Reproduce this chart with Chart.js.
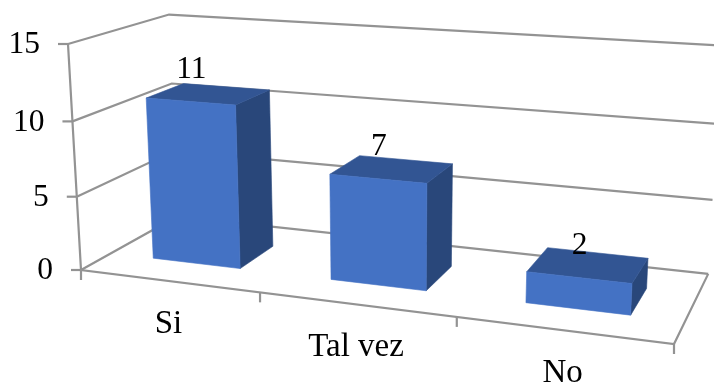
<!DOCTYPE html>
<html lang="es">

<head>
    <meta charset="UTF-8">
    <title>Encuesta</title>
    <script src="https://cdn.jsdelivr.net/npm/chart.js"></script>
    <style>
        html, body { margin: 0; background: #fff; }
        canvas { display: block; }
    </style>
</head>

<body>
    <canvas id="myChart" width="714" height="383"></canvas>
    <script>
        const categories = ['Si', 'Tal vez', 'No'];
        const values = [11, 7, 2];
        const yMin = 0;
        const yMax = 15;
        const yStep = 5;

        const FONT = '33px "Liberation Serif"';
        const NUM_FONT = '31.5px "Liberation Serif"';
        const LINE = '#939393';

        // camera: origin plus the three box edges, each with its homogeneous weight
        const origin = [81, 270];
        const edgeU = { p: [674, 344], w: 0.865 };
        const edgeV = { p: [68, 44], w: 0.96 };
        const edgeW = { p: [177, 216.5], w: 1.125 };
        const barDepth = [0.29, 0.68]; // front and back of the bars inside the box

        // u along the categories, v up the values, w into the depth (all 0..1)
        function project(u, v, w) {
            const den = 1 + (edgeU.w - 1) * u + (edgeV.w - 1) * v + (edgeW.w - 1) * w;
            return [0, 1].map(i => (
                origin[i]
                + (edgeU.w * edgeU.p[i] - origin[i]) * u
                + (edgeV.w * edgeV.p[i] - origin[i]) * v
                + (edgeW.w * edgeW.p[i] - origin[i]) * w
            ) / den);
        }

        function polyline(ctx, pts, close) {
            ctx.beginPath();
            pts.forEach((p, i) => i ? ctx.lineTo(p[0], p[1]) : ctx.moveTo(p[0], p[1]));
            if (close) ctx.closePath();
        }

        // the thin stroke closes the antialiasing seams between faces
        function face(ctx, pts, color) {
            polyline(ctx, pts, true);
            ctx.fillStyle = color;
            ctx.strokeStyle = color;
            ctx.lineWidth = 0.6;
            ctx.fill();
            ctx.stroke();
        }

        const box3d = {
            id: 'box3d',

            // walls, floor, ticks and axis texts
            beforeDatasetsDraw(chart) {
                const { ctx, scales: { x, y } } = chart;
                const toU = px => (px - x.left) / x.width;
                const toV = py => (y.bottom - py) / y.height;

                ctx.save();
                ctx.strokeStyle = LINE;
                ctx.lineWidth = 2.2;
                ctx.lineJoin = 'miter';

                y.ticks.forEach(t => {
                    const v = toV(y.getPixelForValue(t.value));
                    polyline(ctx, [project(0, v, 0), project(0, v, 1), project(1, v, 1)]);
                    ctx.stroke();
                    const p = project(0, v, 0);
                    polyline(ctx, [[p[0] - 10, p[1]], p]);
                    ctx.stroke();
                });

                polyline(ctx, [project(0, 1, 0), project(0, 0, 0), project(1, 0, 0), project(1, 0, 1)]);
                ctx.stroke();

                for (let i = 0; i <= categories.length; i++) {
                    const p = project(i / categories.length, 0, 0);
                    polyline(ctx, [p, [p[0], p[1] + 10]]);
                    ctx.stroke();
                }

                ctx.fillStyle = '#000';
                ctx.textBaseline = 'middle';

                ctx.font = NUM_FONT;
                ctx.textAlign = 'right';
                y.ticks.forEach(t => {
                    const p = project(0, toV(y.getPixelForValue(t.value)), 0);
                    ctx.fillText(t.label, p[0] - 28, p[1] + 1);
                });

                ctx.font = FONT;
                ctx.textAlign = 'center';
                categories.forEach((c, i) => {
                    const p = project(toU(x.getPixelForValue(i)), 0, 0);
                    ctx.fillText(c, p[0], p[1] + 43);
                });
                ctx.restore();
            },

            // the bars: Chart.js lays them out, each one is then drawn as a box
            beforeDatasetDraw(chart, args) {
                const { ctx, scales: { x, y } } = chart;
                const toU = px => (px - x.left) / x.width;
                const toV = py => (y.bottom - py) / y.height;
                const [w0, w1] = barDepth;

                ctx.save();
                args.meta.data.forEach((bar, i) => {
                    const u0 = toU(bar.x - bar.width / 2);
                    const u1 = toU(bar.x + bar.width / 2);
                    const v0 = toV(bar.base);
                    const v1 = toV(bar.y);

                    face(ctx, [project(u1, v0, w0), project(u1, v0, w1), project(u1, v1, w1), project(u1, v1, w0)], '#29477a');
                    face(ctx, [project(u0, v1, w0), project(u1, v1, w0), project(u1, v1, w1), project(u0, v1, w1)], '#325593');
                    face(ctx, [project(u0, v0, w0), project(u1, v0, w0), project(u1, v1, w0), project(u0, v1, w0)], '#4472c4');

                    // value above the front of the top face
                    const p = project(toU(bar.x), v1, w0);
                    ctx.fillStyle = '#000';
                    ctx.font = NUM_FONT;
                    ctx.textAlign = 'center';
                    ctx.textBaseline = 'middle';
                    ctx.fillText(String(values[i]), p[0] + 1, p[1] - 32);
                });
                ctx.restore();
                return false;
            }
        };

        const myChart = new Chart(document.querySelector('#myChart'), {
            type: 'bar',
            data: {
                labels: categories,
                datasets: [{
                    data: values,
                    barPercentage: 0.5,
                    categoryPercentage: 1
                }]
            },
            options: {
                responsive: false,
                animation: false,
                layout: { padding: 0 },
                plugins: {
                    legend: { display: false },
                    tooltip: { enabled: false }
                },
                scales: {
                    x: { display: false },
                    y: { display: false, min: yMin, max: yMax, ticks: { stepSize: yStep } }
                }
            },
            plugins: [box3d]
        });
    </script>
</body>

</html>
